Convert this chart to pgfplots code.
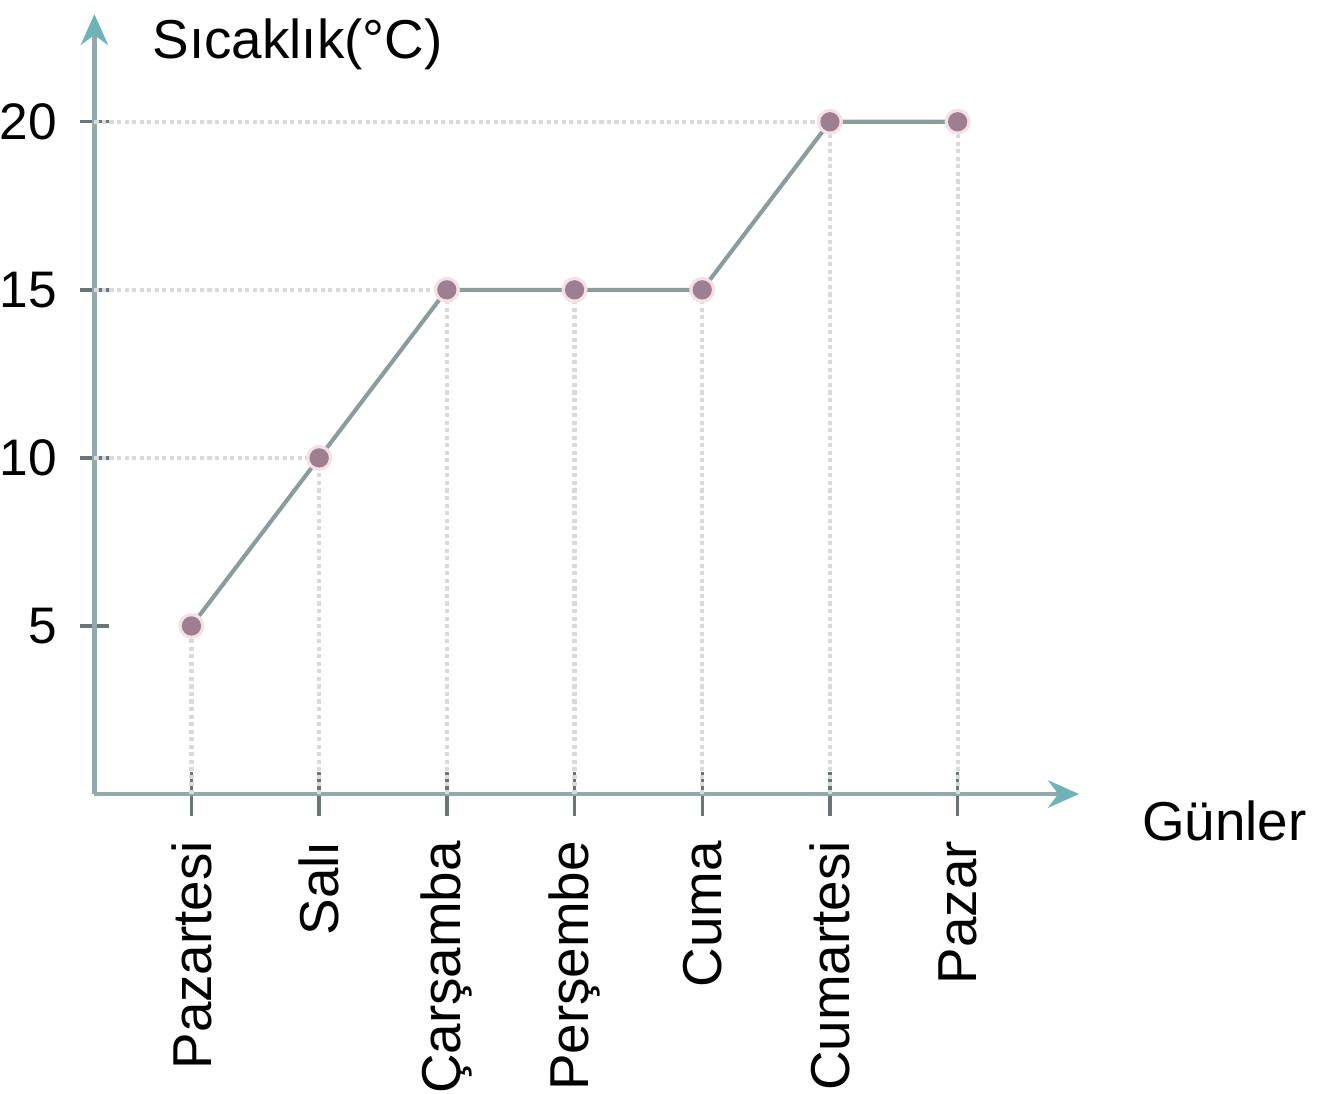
\documentclass[border=0pt]{standalone}
\usepackage{pgfplots}
\pgfplotsset{compat=1.18}
\usetikzlibrary{arrows.meta}
\usepackage{fontspec}
\setmainfont{Liberation Sans}

\definecolor{axiscol}{HTML}{93AAAA}
\definecolor{arrowcol}{HTML}{6FB3B8}
\definecolor{linecol}{HTML}{8A9C9C}
\definecolor{markcol}{HTML}{9E7F8F}
\definecolor{halo}{HTML}{F6DFE8}
\definecolor{gridcol}{HTML}{DADADA}

\begin{document}
\fontsize{16}{19}\selectfont
\begin{tikzpicture}
\begin{axis}[
  scale only axis,
  width=10.1cm, height=8.0cm,
  xmin=-0.76, xmax=6.95,
  ymin=0, ymax=23.2,
  axis x line=bottom, axis y line=left,
  axis line style={axiscol, line width=1.3pt,
    -{Stealth[length=9pt, width=8pt, color=arrowcol]}},
  xtick={0,...,6},
  xticklabels={Pazartesi,Salı,Çarşamba,Perşembe,Cuma,Cumartesi,Pazar},
  ytick={5,10,15,20},
  tick align=center,
  x tick style={axiscol!70!black, line width=1pt},
  y tick style={axiscol!70!black, line width=1pt},
  xtick style={/pgfplots/major tick length=0.45cm},
  ytick style={/pgfplots/major tick length=0.3cm},
  x tick label style={rotate=90, anchor=east, inner sep=0pt, xshift=-0.4cm},
  y tick label style={anchor=east, inner sep=0pt, xshift=-0.3cm,
    font=\fontsize{15}{18}\selectfont},
  /pgf/number format/assume math mode=true,
  clip=false,
]
% dotted guide lines
\addplot[gridcol, densely dotted, line width=1.2pt] coordinates {(-0.76,20) (6,20)};
\addplot[gridcol, densely dotted, line width=1.2pt] coordinates {(-0.76,15) (4,15)};
\addplot[gridcol, densely dotted, line width=1.2pt] coordinates {(-0.76,10) (1,10)};
\addplot[ycomb, gridcol, densely dotted, line width=1.2pt]
  coordinates {(0,5) (1,10) (2,15) (3,15) (4,15) (5,20) (6,20)};
% soft halo under the markers
\addplot[only marks, color=halo, mark=*, mark size=3.6pt]
  coordinates {(0,5) (1,10) (2,15) (3,15) (4,15) (5,20) (6,20)};
% temperatures
\addplot[linecol, line width=1.2pt, mark=*, mark size=2.2pt,
  mark options={color=markcol, solid}]
  coordinates {(0,5) (1,10) (2,15) (3,15) (4,15) (5,20) (6,20)};
\node[anchor=west] at (rel axis cs:0.04,0.962) {Sıcaklık(°C)};
\node[anchor=west] at (rel axis cs:1.045,-0.035) {Günler};
\end{axis}
\end{tikzpicture}
\end{document}
